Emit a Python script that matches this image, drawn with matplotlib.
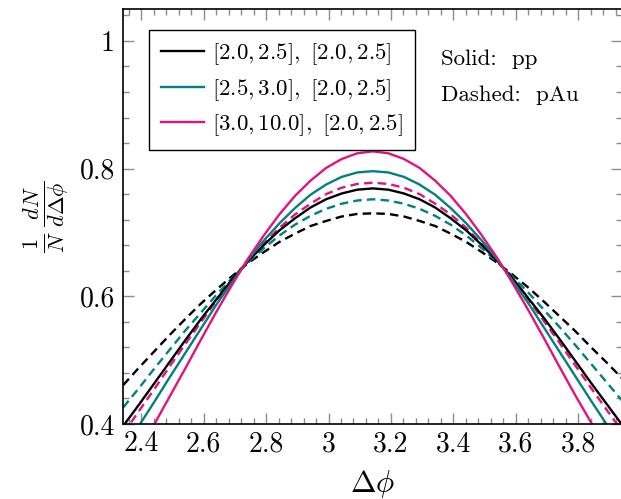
import numpy as np
import matplotlib
matplotlib.use("Agg")
import matplotlib.pyplot as plt
from matplotlib.ticker import MultipleLocator, FixedLocator, FixedFormatter

plt.rcParams['font.family'] = 'serif'
plt.rcParams['font.serif'] = ['cmr10']
plt.rcParams['mathtext.fontset'] = 'cm'
plt.rcParams['axes.formatter.use_mathtext'] = True
plt.rcParams['axes.unicode_minus'] = False

# ---- data ----
dphi = [2.342, 2.392, 2.442, 2.492, 2.542, 2.592, 2.642, 2.692, 2.742, 2.792,
        2.842, 2.892, 2.942, 2.992, 3.042, 3.092, 3.142, 3.192, 3.242, 3.292,
        3.342, 3.392, 3.442, 3.492, 3.542, 3.592, 3.642, 3.692, 3.742, 3.792,
        3.842, 3.892, 3.942]

pp_black = [0.397, 0.430, 0.464, 0.498, 0.532, 0.565, 0.596, 0.627, 0.655, 0.680,
            0.703, 0.722, 0.739, 0.752, 0.761, 0.767, 0.769, 0.767, 0.761, 0.752,
            0.739, 0.722, 0.703, 0.680, 0.655, 0.627, 0.596, 0.565, 0.532, 0.498,
            0.464, 0.431, 0.398]
pp_teal = [0.360, 0.397, 0.435, 0.474, 0.512, 0.550, 0.588, 0.623, 0.657, 0.687,
           0.714, 0.738, 0.759, 0.775, 0.787, 0.794, 0.796, 0.794, 0.787, 0.775,
           0.759, 0.738, 0.714, 0.687, 0.657, 0.623, 0.588, 0.550, 0.512, 0.474,
           0.436, 0.399, 0.362]
pp_pink = [0.317, 0.358, 0.400, 0.444, 0.488, 0.533, 0.577, 0.619, 0.659, 0.695,
           0.728, 0.757, 0.781, 0.801, 0.815, 0.824, 0.827, 0.824, 0.815, 0.801,
           0.781, 0.757, 0.728, 0.695, 0.659, 0.619, 0.577, 0.533, 0.488, 0.444,
           0.402, 0.360, 0.319]

pau_black = [0.461, 0.488, 0.514, 0.540, 0.565, 0.589, 0.611, 0.632, 0.652, 0.669,
             0.685, 0.698, 0.710, 0.718, 0.725, 0.729, 0.730, 0.729, 0.725, 0.718,
             0.710, 0.698, 0.685, 0.669, 0.652, 0.633, 0.613, 0.591, 0.568, 0.545,
             0.520, 0.496, 0.471]
pau_teal = [0.426, 0.456, 0.487, 0.517, 0.547, 0.575, 0.603, 0.629, 0.653, 0.675,
            0.695, 0.712, 0.726, 0.737, 0.745, 0.750, 0.752, 0.750, 0.745, 0.737,
            0.726, 0.712, 0.695, 0.675, 0.653, 0.630, 0.605, 0.578, 0.551, 0.523,
            0.494, 0.465, 0.436]
pau_pink = [0.385, 0.420, 0.455, 0.491, 0.526, 0.560, 0.594, 0.626, 0.655, 0.682,
            0.707, 0.728, 0.745, 0.760, 0.770, 0.776, 0.778, 0.776, 0.770, 0.760,
            0.745, 0.728, 0.707, 0.682, 0.655, 0.626, 0.594, 0.560, 0.526, 0.491,
            0.456, 0.422, 0.388]

labels = [r'$[2.0, 2.5],\ [2.0, 2.5]$',
          r'$[2.5, 3.0],\ [2.0, 2.5]$',
          r'$[3.0, 10.0],\ [2.0, 2.5]$']
colors = ['black', '#008080', '#e0137f']

xticks = [2.4, 2.6, 2.8, 3.0, 3.2, 3.4, 3.6, 3.8]
xticklabels = ['2.4', '2.6', '2.8', '3', '3.2', '3.4', '3.6', '3.8']
yticks = [0.4, 0.6, 0.8, 1.0]
yticklabels = ['0.4', '0.6', '0.8', '1']

# ---- figure ----
fig = plt.figure(figsize=(6.21, 4.99), dpi=100)
ax = fig.add_axes([123.1 / 621, 75 / 499, 499.2 / 621, 415 / 499])

lw = 1.7
dash = (3.6, 2.2)
for ys, c in zip([pau_black, pau_teal, pau_pink], colors):
    ax.plot(dphi, ys, color=c, lw=lw, dashes=dash)
for ys, c, lab in zip([pp_black, pp_teal, pp_pink], colors, labels):
    ax.plot(dphi, ys, color=c, lw=lw, label=lab)

ax.set_xlim(np.pi - 0.8, np.pi + 0.8)
ax.set_ylim(0.4, 1.05)

ax.xaxis.set_major_locator(FixedLocator(xticks))
ax.xaxis.set_major_formatter(FixedFormatter(xticklabels))
ax.yaxis.set_major_locator(FixedLocator(yticks))
ax.yaxis.set_major_formatter(FixedFormatter(yticklabels))
ax.xaxis.set_minor_locator(MultipleLocator(0.04))
ax.yaxis.set_minor_locator(MultipleLocator(0.04))

ax.tick_params(which='both', direction='in', top=True, right=True,
               color='#8c8c8c', width=1.0)
ax.tick_params(which='major', length=8, labelsize=20)
ax.tick_params(which='minor', length=4.5)
ax.tick_params(axis='x', which='major', pad=5)
ax.tick_params(axis='y', which='major', pad=6)

for s in ax.spines.values():
    s.set_linewidth(1.2)
    s.set_color('black')

ax.set_xlabel(r'$\Delta\phi$', fontsize=22, labelpad=8)
ax.set_ylabel(r'$\frac{1}{N}\,\frac{dN}{d\Delta\phi}$', fontsize=23, labelpad=6)

leg = ax.legend(loc='upper left', bbox_to_anchor=(0.052, 0.949), borderaxespad=0,
                fontsize=16.5, frameon=True, fancybox=False, framealpha=1,
                edgecolor='black', handlelength=1.9, handletextpad=0.35,
                labelspacing=0.42, borderpad=0.5)
leg.get_frame().set_linewidth(1.0)

ax.text(0.637, 0.880, 'Solid:  pp', transform=ax.transAxes, fontsize=16.5,
        va='center', ha='left')
ax.text(0.637, 0.793, 'Dashed:  pAu', transform=ax.transAxes, fontsize=16.5,
        va='center', ha='left')

fig.savefig('out.png', dpi=100, facecolor='white')
